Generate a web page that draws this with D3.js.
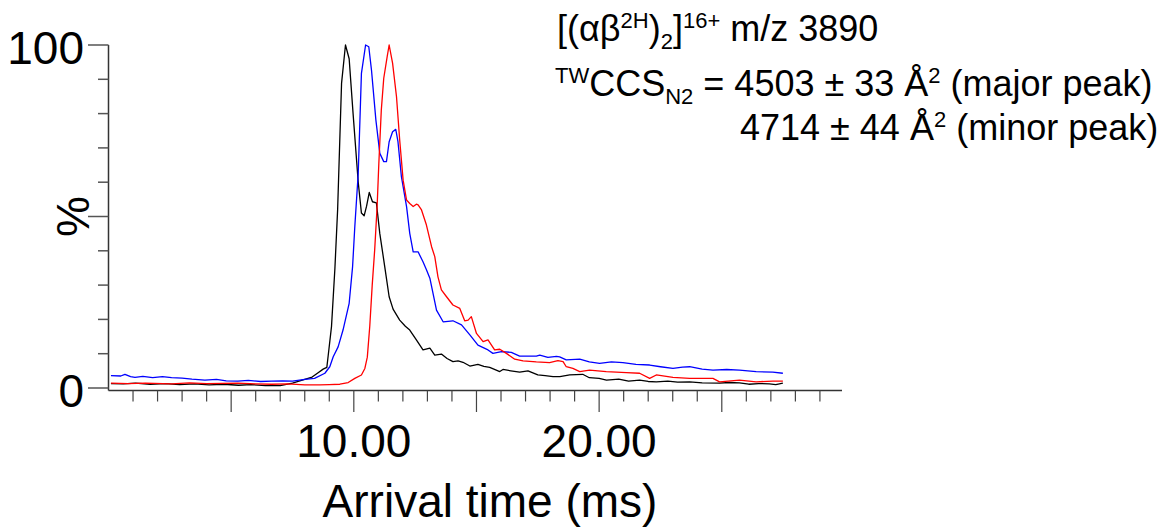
<!DOCTYPE html>
<html>
<head>
<meta charset="utf-8">
<script src="https://cdn.jsdelivr.net/npm/d3@7"></script>
<style>
  body { margin: 0; background: #fff; }
  text { font-family: "Liberation Sans", Arial, sans-serif; white-space: pre; }
</style>
</head>
<body>
<div id="canvas"></div>
<script>
"use strict"

/* Chart data: arrival time (ms) vs intensity (%) */
let blackTrace = [[0.1,1.3],[0.6,1.2],[1.1,1.4],[1.7,1.1],[2.3,1.3],[2.9,1.0],[3.5,1.2],[4.1,0.9],[4.7,1.1],[5.3,0.8],
    [5.8,1.0],[6.4,0.7],[7.0,0.7],[7.5,1.4],[8.0,2.5],[8.3,3.2],[8.53,4.4],[8.75,5.5],[8.9,6.0],[8.95,9.1],
    [9.09,17.9],[9.23,35],[9.34,52],[9.5,88.8],[9.66,100],[9.81,96],[9.97,80],[10.18,60],[10.31,51],[10.42,50.2],
    [10.52,53],[10.63,57],[10.76,54.3],[10.92,54],[11.06,45],[11.26,35.4],[11.44,26.6],[11.6,23],[11.87,19.8],[12.1,18],
    [12.28,16.9],[12.55,14],[12.82,11.1],[13.1,11.6],[13.3,9.6],[13.57,9.9],[13.8,8.6],[14.04,7.7],[14.25,7.9],[14.45,7.5],
    [14.73,6.4],[15.06,6.9],[15.3,6.3],[15.54,6.0],[15.95,4.8],[16.08,5.4],[16.4,5.0],[16.76,4.6],[17.1,5.0],[17.5,3.8],
    [17.8,3.6],[18.12,3.3],[18.4,3.3],[18.8,3.8],[19.33,4.0],[19.6,3.0],[20.0,2.8],[20.3,2.3],[20.8,2.6],[21.2,2.0],
    [21.65,2.3],[22.0,1.9],[22.33,1.8],[22.8,2.0],[23.2,1.7],[23.69,1.8],[24.2,1.5],[24.91,1.4],[25.3,1.6],[25.72,1.5],
    [26.1,1.1],[26.5,1.3],[26.94,1.2],[27.2,1.0],[27.49,1.4]];

let blueTrace = [[0.1,3.6],[0.5,3.5],[0.67,4.0],[0.9,3.3],[1.08,3.1],[1.4,3.4],[1.8,3.0],[2.2,3.3],[2.57,3.0],[3.0,2.9],
    [3.4,2.6],[3.93,2.3],[4.4,2.5],[4.8,2.1],[5.27,2.0],[5.7,2.2],[6.2,1.9],[6.65,2.0],[7.1,2.1],[7.5,2.0],
    [8.0,2.5],[8.4,2.8],[8.82,4.3],[9.02,6.2],[9.16,9.1],[9.36,12],[9.56,16.9],[9.81,24.7],[9.95,35.4],[10.04,47],
    [10.11,54.8],[10.18,62.6],[10.31,91.7],[10.48,100],[10.61,99.5],[10.72,92.7],[10.9,78.1],[11.06,68.4],[11.22,66],[11.33,66],
    [11.44,71.8],[11.58,74.7],[11.71,75.4],[11.8,71.8],[11.94,61.6],[12.15,52.9],[12.28,45.1],[12.42,39.7],[12.62,39.7],[12.82,36.8],
    [12.96,34.5],[13.1,32],[13.37,22.7],[13.64,19.3],[14.04,19.6],[14.39,18.4],[14.73,15.5],[15.06,12.5],[15.47,11.1],[15.67,10.1],
    [16.02,10.6],[16.42,10.4],[16.76,9.3],[17.44,9.3],[17.58,9.6],[17.91,8.9],[18.26,9.2],[18.39,9.1],[18.66,8.2],[19.21,8.4],
    [19.6,7.6],[20.02,7.2],[20.5,7.6],[20.97,7.4],[21.5,6.9],[22.06,6.7],[22.5,6.2],[23.01,5.7],[23.4,6.1],[23.69,6.2],
    [24.2,5.5],[24.64,5.2],[25.2,5.4],[25.72,5.2],[26.4,4.8],[27.08,4.6],[27.49,4.3]];

let redTrace = [[0.1,1.4],[0.8,1.3],[1.5,1.4],[2.57,1.2],[3.3,1.5],[4.0,1.3],[5.27,1.4],[6.0,1.2],[6.65,1.1],[7.3,1.2],
    [8.0,0.9],[8.62,0.9],[9.0,1.0],[9.43,1.1],[9.77,1.6],[10.04,2.8],[10.31,3.8],[10.45,5.7],[10.55,9],[10.65,18],
    [10.75,30],[10.85,40.2],[10.95,52.9],[11.02,65.5],[11.12,81],[11.22,90.3],[11.36,96.6],[11.44,100],[11.58,94.7],[11.74,84.9],
    [11.87,72.3],[12.01,60.6],[12.15,54.8],[12.28,53.8],[12.42,52.9],[12.55,53.6],[12.62,53.4],[12.76,51.9],[12.96,47.5],[13.17,41.2],
    [13.3,38.3],[13.43,32.4],[13.57,28.6],[13.78,26.6],[14.04,24.2],[14.32,23.2],[14.52,19.6],[14.66,19.8],[14.79,20.8],[15.0,15.9],
    [15.27,13.5],[15.47,14],[15.74,11.1],[15.95,11.3],[16.22,10.1],[16.56,8.4],[16.9,7.9],[17.44,7.6],[17.98,7.4],[18.32,8.0],
    [18.53,7.7],[18.66,6.2],[18.93,5.7],[19.21,4.8],[19.61,5.2],[20.29,4.8],[21.11,4.5],[21.65,4.3],[22.06,2.8],[22.33,3.8],
    [23.01,3.1],[23.69,2.8],[24.64,2.8],[24.91,1.8],[25.72,2.3],[26.4,1.8],[27.08,2.0],[27.49,2.0]];

let traceColors = ["#000000", "#0000ff", "#ff0000"];

/* Tick values and labels */
let xTicks = d3.range(1, 30);
let xLabelTicks = [10, 20];
let yTicks = d3.range(0, 101, 10);
let yLabelTicks = [0, 100];

/* Configuration variables: drawing */
let svgWidth = 1166;
let svgHeight = 529;

let svg = d3.select("#canvas")
    .append("svg")
    .attr("width", svgWidth)
    .attr("height", svgHeight);

let xScale = d3.scaleLinear()
    .domain([0, 29.9])
    .range([108.5, 842]);

let yScale = d3.scaleLinear()
    .domain([0, 100])
    .range([388, 45]);

let axisY = 390.5;

/* y axis */
svg.append("line")
    .attr("x1", 108.5).attr("x2", 108.5)
    .attr("y1", yScale(100)).attr("y2", axisY)
    .attr("stroke", "#333").attr("stroke-width", 1.5);

svg.selectAll(".ytick")
    .data(yTicks)
    .join("line")
    .attr("class", "ytick")
    .attr("x1", d => (d % 50 == 0) ? 88 : 98)
    .attr("x2", 108.5)
    .attr("y1", d => yScale(d))
    .attr("y2", d => yScale(d))
    .attr("stroke", "#555").attr("stroke-width", 1.5);

svg.selectAll(".ylabel")
    .data(yLabelTicks)
    .join("text")
    .attr("class", "ylabel")
    .attr("x", 84)
    .attr("y", d => yScale(d) + 19)
    .attr("text-anchor", "end")
    .attr("font-size", 46)
    .text(d => d);

svg.append("text")
    .attr("transform", "translate(89," + yScale(50) + ") rotate(-90)")
    .attr("text-anchor", "middle")
    .attr("font-size", 46)
    .text("%");

/* x axis */
svg.append("line")
    .attr("x1", 108.5).attr("x2", 842)
    .attr("y1", axisY).attr("y2", axisY)
    .attr("stroke", "#333").attr("stroke-width", 1.5);

svg.selectAll(".xtick")
    .data(xTicks)
    .join("line")
    .attr("class", "xtick")
    .attr("x1", d => xScale(d))
    .attr("x2", d => xScale(d))
    .attr("y1", axisY)
    .attr("y2", d => (d % 5 == 0) ? 412 : 401.5)
    .attr("stroke", "#444").attr("stroke-width", 1.2);

svg.selectAll(".xlabel")
    .data(xLabelTicks)
    .join("text")
    .attr("class", "xlabel")
    .attr("x", d => xScale(d))
    .attr("y", 457)
    .attr("text-anchor", "middle")
    .attr("font-size", 46)
    .text(d => d.toFixed(2));

svg.append("text")
    .attr("x", 490)
    .attr("y", 517)
    .attr("text-anchor", "middle")
    .attr("font-size", 46)
    .text("Arrival time (ms)");

/* traces */
let line = d3.line()
    .x(d => xScale(d[0]))
    .y(d => yScale(d[1]));

svg.selectAll(".trace")
    .data([blackTrace, blueTrace, redTrace])
    .join("path")
    .attr("class", "trace")
    .attr("d", line)
    .attr("fill", "none")
    .attr("stroke", (d, i) => traceColors[i])
    .attr("stroke-width", 1.3)
    .attr("stroke-linejoin", "round");

/* annotation: each part is [text, size, dy] */
let fontMain = 36;
let fontSmall = 22;
let annotLines = [
    { x: 557, y: 41, parts: [["[(αβ", fontMain, 0], ["2H", fontSmall, -13], [")", fontMain, 13], ["2", fontSmall, 8],
        ["]", fontMain, -8], ["16+", fontSmall, -13], [" m/z 3890", fontMain, 13]] },
    { x: 555, y: 96, parts: [["TW", fontSmall, -13], ["CCS", fontMain, 13], ["N2", fontSmall, 8],
        [" = 4503 ± 33 Å", fontMain, -8], ["2", fontSmall, -13], [" (major peak)", fontMain, 13]] },
    { x: 740, y: 140, parts: [["4714 ± 44 Å", fontMain, 0], ["2", fontSmall, -13], [" (minor peak)", fontMain, 13]] }
];

annotLines.forEach(function (ln) {
    let t = svg.append("text")
        .attr("x", ln.x)
        .attr("y", ln.y);
    ln.parts.forEach(function (p) {
        t.append("tspan")
            .attr("font-size", p[1])
            .attr("dy", p[2])
            .text(p[0]);
    });
});
</script>
</body>
</html>
